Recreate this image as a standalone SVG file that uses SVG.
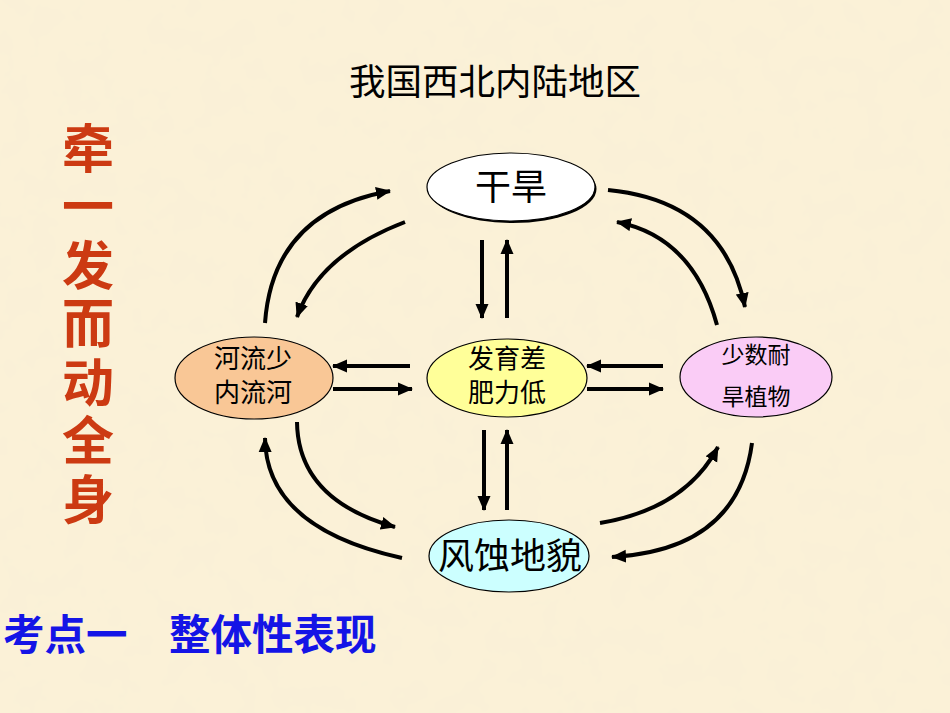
<svg xmlns="http://www.w3.org/2000/svg" width="950" height="713" viewBox="0 0 950 713">
  <defs>
    <style>
      .cjk { font-family: "Noto Sans CJK SC", "Noto Sans", sans-serif; }
      .node-shape { stroke: #000; stroke-width: 1.2; }
      .label { fill: #000; text-anchor: middle; }
      .link { fill: none; stroke: #000; stroke-width: 4; marker-end: url(#arrow); }
    </style>
    <marker id="arrow" markerUnits="userSpaceOnUse" markerWidth="16" markerHeight="14" refX="14" refY="7" orient="auto">
      <path d="M0,0.5 L15,7 L0,13.5 Z" fill="#000"/>
    </marker>
    <filter id="paper" x="0" y="0" width="100%" height="100%">
      <feTurbulence type="fractalNoise" baseFrequency="0.035" numOctaves="3" seed="7" result="noise"/>
      <feColorMatrix in="noise" type="matrix" values="0 0 0 0 0.93  0 0 0 0 0.85  0 0 0 0 0.68  0 0 0 0.55 -0.18"/>
    </filter>
  </defs>

  <!-- parchment background -->
  <rect width="950" height="713" fill="#FBF1D7"/>
  <rect width="950" height="713" filter="url(#paper)"/>

  <!-- heading -->
  <text class="cjk" x="495" y="95" font-size="36.5" text-anchor="middle" fill="#000">我国西北内陆地区</text>

  <!-- vertical slogan -->
  <text class="cjk" x="88" y="122" font-size="52" font-weight="700" fill="#CC3A12" writing-mode="vertical-rl" letter-spacing="6.5">牵一发而动全身</text>

  <!-- footer -->
  <text class="cjk" x="3" y="650" font-size="41.5" font-weight="700" fill="#1414E6">考点一　整体性表现</text>

  <!-- connectors -->
  <g id="connectors">
    <!-- 干旱 <-> 河流少 -->
    <path class="link" d="M265,323 Q273,212 390,191"/>
    <path class="link" d="M405,222 Q319,255 297,317"/>
    <!-- 干旱 <-> 少数耐旱植物 -->
    <path class="link" d="M608,190 Q723,201 745,307"/>
    <path class="link" d="M717,325 Q693,237 617,222"/>
    <!-- 河流少 <-> 风蚀地貌 -->
    <path class="link" d="M297,422 Q298,500 395,527"/>
    <path class="link" d="M402,558 Q266,528 265,438"/>
    <!-- 少数耐旱植物 <-> 风蚀地貌 -->
    <path class="link" d="M600,523 Q685,509 718,447"/>
    <path class="link" d="M752,443 Q738,550 612,557"/>
    <!-- 干旱 <-> 发育差 -->
    <path class="link" d="M482,240 L482,318"/>
    <path class="link" d="M507,318 L507,240"/>
    <!-- 发育差 <-> 风蚀地貌 -->
    <path class="link" d="M484,430 L484,510"/>
    <path class="link" d="M507,510 L507,430"/>
    <!-- 发育差 <-> 河流少 -->
    <path class="link" d="M410,366 L333,366"/>
    <path class="link" d="M333,389 L412,389"/>
    <!-- 少数耐旱植物 <-> 发育差 -->
    <path class="link" d="M663,366 L587,366"/>
    <path class="link" d="M587,389 L663,389"/>
  </g>

  <!-- nodes -->
  <g id="node-drought">
    <ellipse cx="512.5" cy="189" rx="84" ry="34" fill="#000"/>
    <ellipse class="node-shape" cx="511" cy="187" rx="84" ry="34" fill="#FFFFFF"/>
    <text class="cjk label" x="511" y="200" font-size="36">干旱</text>
  </g>

  <g id="node-rivers">
    <ellipse class="node-shape" cx="254" cy="378" rx="79" ry="41" fill="#F9C796"/>
    <text class="cjk label" x="253" y="368" font-size="26">河流少</text>
    <text class="cjk label" x="253" y="402" font-size="26">内流河</text>
  </g>

  <g id="node-soil">
    <ellipse class="node-shape" cx="507" cy="378" rx="80" ry="39" fill="#FFFF99"/>
    <text class="cjk label" x="507" y="368" font-size="26">发育差</text>
    <text class="cjk label" x="507" y="402" font-size="26">肥力低</text>
  </g>

  <g id="node-plants">
    <ellipse class="node-shape" cx="756" cy="377" rx="76" ry="40" fill="#FACCF6"/>
    <text class="cjk label" x="756" y="363" font-size="23">少数耐</text>
    <text class="cjk label" x="756" y="405" font-size="23">旱植物</text>
  </g>

  <g id="node-landform">
    <ellipse class="node-shape" cx="509" cy="556" rx="80" ry="36" fill="#CCFFFF"/>
    <text class="cjk label" x="510" y="569" font-size="36">风蚀地貌</text>
  </g>
</svg>
